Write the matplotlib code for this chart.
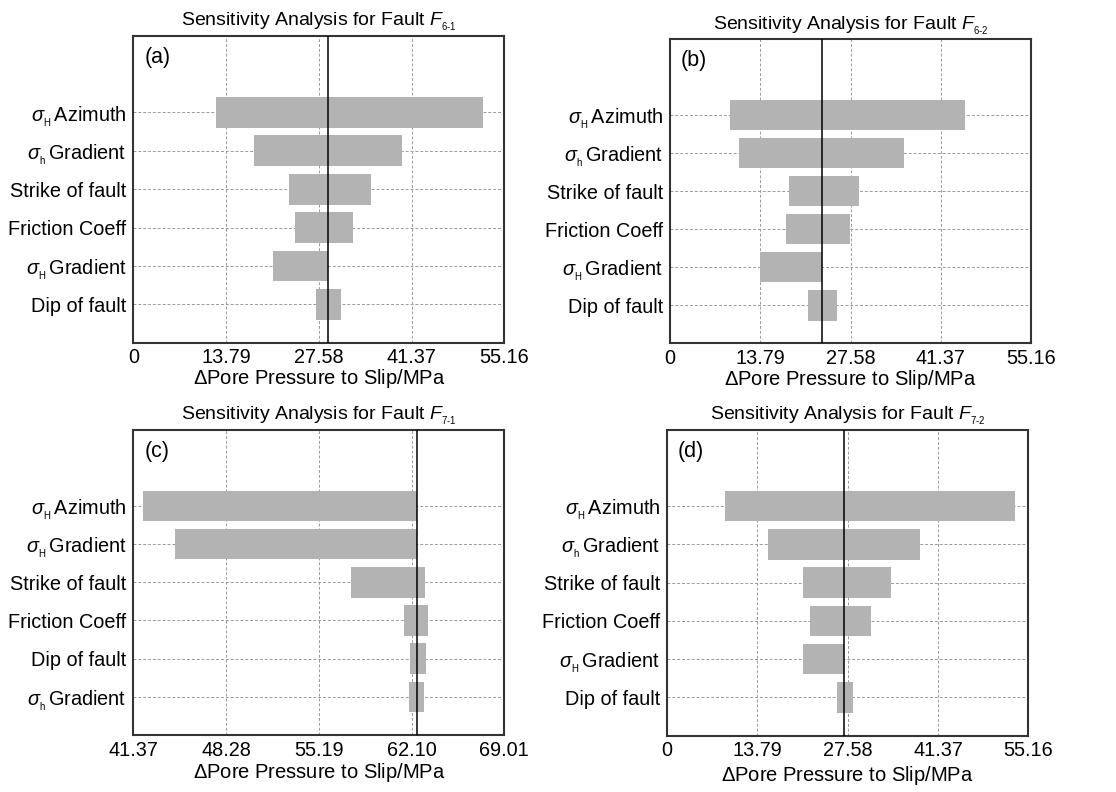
import matplotlib.pyplot as plt
import numpy as np

plt.rcParams['font.family'] = ['Liberation Sans', 'DejaVu Sans']
plt.rcParams['mathtext.fontset'] = 'custom'
plt.rcParams['mathtext.rm'] = 'Liberation Sans'
plt.rcParams['mathtext.it'] = 'Liberation Sans:italic'

SH = r'$\sigma_{{}_{\rm H}}\,$'
Sh = r'$\sigma_{{}_{\rm h}}\,$'

# (a) fault F6-1
labels_a = [SH + 'Azimuth', Sh + 'Gradient', 'Strike of fault', 'Friction Coeff', SH + 'Gradient', 'Dip of fault']
low_a = [12.3, 17.9, 23.1, 24.0, 20.8, 27.1]
high_a = [52.0, 39.9, 35.3, 32.7, 28.95, 30.9]
base_a = 28.95

# (b) fault F6-2
labels_b = labels_a
low_b = [9.2, 10.5, 18.1, 17.7, 13.7, 21.1]
high_b = [45.1, 35.7, 28.9, 27.5, 23.17, 25.5]
base_b = 23.17

# (c) fault F7-1
labels_c = [SH + 'Azimuth', SH + 'Gradient', 'Strike of fault', 'Friction Coeff', 'Dip of fault', Sh + 'Gradient']
low_c = [42.1, 44.45, 57.6, 61.5, 62.0, 61.9]
high_c = [62.51, 62.51, 63.1, 63.3, 63.2, 63.0]
base_c = 62.51

# (d) fault F7-2
labels_d = labels_a
low_d = [8.9, 15.4, 20.7, 21.8, 20.7, 25.9]
high_d = [53.1, 38.7, 34.2, 31.1, 27.07, 28.4]
base_d = 27.07

ticks_abd = [0, 13.79, 27.58, 41.37, 55.16]
ticklabels_abd = ['0', '13.79', '27.58', '41.37', '55.16']
ticks_c = [41.37, 48.28, 55.19, 62.10, 69.01]
ticklabels_c = ['41.37', '48.28', '55.19', '62.10', '69.01']


def tornado(ax, labels, low, high, base, ticks, ticklabels, title, tag, labelpad):
    n = len(labels)
    y = np.arange(n)[::-1]
    ax.set_axisbelow(True)
    ax.grid(True, linestyle=(0, (3, 2)), color='#999999', linewidth=0.7)
    ax.barh(y, np.array(high) - np.array(low), left=low, height=0.8,
            color='#b3b3b3', edgecolor='none', zorder=2)
    ax.axvline(base, color='black', linewidth=1.1, zorder=3)
    ax.set_xlim(ticks[0], ticks[-1])
    ax.set_ylim(-1, n + 0.99)
    ax.set_xticks(ticks)
    ax.set_xticklabels(ticklabels)
    ax.set_yticks(y)
    ax.set_yticklabels(labels)
    ax.tick_params(length=0, labelsize=14.3)
    ax.tick_params(axis='x', pad=4)
    ax.tick_params(axis='y', pad=5)
    for s in ax.spines.values():
        s.set_linewidth(1.5)
        s.set_color('#333333')
    ax.set_xlabel(r'$\Delta$Pore Pressure to Slip/MPa', fontsize=14.5, labelpad=labelpad)
    ax.set_title(title, fontsize=14, pad=7)
    ax.text(0.03, 0.93, tag, transform=ax.transAxes, fontsize=15.5, va='center', ha='left')


fig = plt.figure(figsize=(11.16, 7.92), dpi=100)
ax_a = fig.add_axes([0.1195, 0.5673, 0.3324, 0.3872])
ax_b = fig.add_axes([0.6004, 0.5665, 0.3235, 0.3838])
ax_c = fig.add_axes([0.1195, 0.0720, 0.3324, 0.3851])
ax_d = fig.add_axes([0.5977, 0.0711, 0.3237, 0.3860])

tornado(ax_a, labels_a, low_a, high_a, base_a, ticks_abd, ticklabels_abd,
        r'Sensitivity Analysis for Fault $\mathit{F}_{{}_{\text{6-1}}}$', '(a)', 0)
tornado(ax_b, labels_b, low_b, high_b, base_b, ticks_abd, ticklabels_abd,
        r'Sensitivity Analysis for Fault $\mathit{F}_{{}_{\text{6-2}}}$', '(b)', 0)
tornado(ax_c, labels_c, low_c, high_c, base_c, ticks_c, ticklabels_c,
        r'Sensitivity Analysis for Fault $\mathit{F}_{{}_{\text{7-1}}}$', '(c)', 1)
tornado(ax_d, labels_d, low_d, high_d, base_d, ticks_abd, ticklabels_abd,
        r'Sensitivity Analysis for Fault $\mathit{F}_{{}_{\text{7-2}}}$', '(d)', 3)

fig.savefig('out.png', dpi=100)
